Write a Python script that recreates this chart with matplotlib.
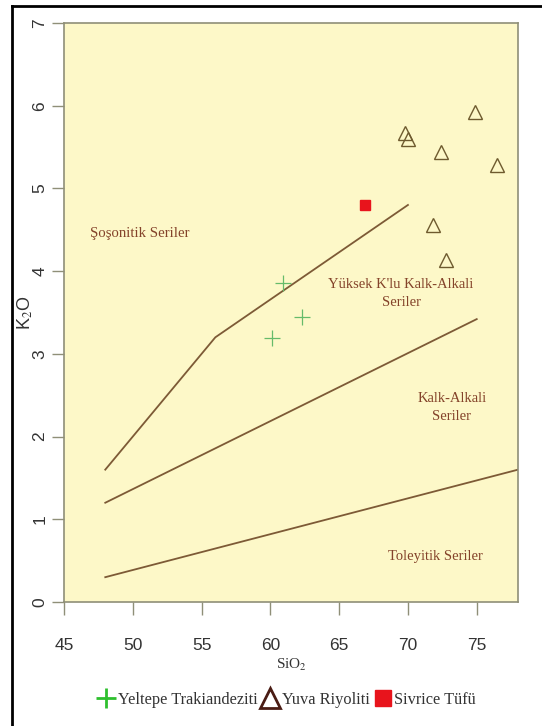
import numpy as np
import matplotlib.pyplot as plt
from matplotlib.lines import Line2D

plt.rcParams['font.family'] = ['Liberation Serif', 'DejaVu Serif']
plt.rcParams['mathtext.fontset'] = 'stix'

# series boundaries (SiO2, K2O)
shoshonitic_x = [48, 56, 70]
shoshonitic_y = [1.6, 3.2, 4.8]
highk_x = [48, 75]
highk_y = [1.2, 3.42]
tholeiitic_x = [48, 78]
tholeiitic_y = [0.3, 1.6]

# samples
yeltepe_sio2 = [60.9, 62.3, 60.1]
yeltepe_k2o = [3.86, 3.45, 3.19]
yuva_sio2 = [69.75, 70.0, 74.9, 72.4, 76.5, 71.8, 72.8]
yuva_k2o = [5.67, 5.60, 5.93, 5.44, 5.28, 4.56, 4.14]
sivrice_sio2 = [66.9]
sivrice_k2o = [4.80]

x_ticks = [45, 50, 55, 60, 65, 70, 75]
y_ticks = [0, 1, 2, 3, 4, 5, 6, 7]

line_col = '#7d5a36'
text_col = '#84432a'
frame_col = '#8f8f78'
sans = ['Liberation Sans', 'DejaVu Sans']

fig = plt.figure(figsize=(5.42, 7.26), dpi=100)
ax = fig.add_axes([64 / 542, 1 - 602 / 726, 454 / 542, 579 / 726])
ax.set_facecolor('#fdf8c8')

ax.plot(shoshonitic_x, shoshonitic_y, color=line_col, lw=1.3)
ax.plot(highk_x, highk_y, color=line_col, lw=1.3)
ax.plot(tholeiitic_x, tholeiitic_y, color=line_col, lw=1.3)

ax.plot(yeltepe_sio2, yeltepe_k2o, ls='none', marker='+', ms=11, mew=0.9, color='#66bb6a')
ax.plot(yuva_sio2, yuva_k2o, ls='none', marker='^', ms=10, mew=1.0,
        mfc='none', mec='#6e5a2e')
ax.plot(sivrice_sio2, sivrice_k2o, ls='none', marker='s', ms=7, color='#e8141c')

ax.text(46.9, 4.45, 'Şoşonitik Seriler', color=text_col, fontsize=10.6, va='center')
ax.text(69.5, 3.73, "Yüksek K'lu Kalk-Alkali\nSeriler", color=text_col, fontsize=10.5,
        ha='center', va='center', linespacing=1.45)
ax.text(73.2, 2.35, 'Kalk-Alkali\nSeriler', color=text_col, fontsize=10.5,
        ha='center', va='center', linespacing=1.5)
ax.text(72.0, 0.55, 'Toleyitik Seriler', color=text_col, fontsize=10.5,
        ha='center', va='center')

ax.set_xlim(45, 78)
ax.set_ylim(0, 7)
ax.set_xticks(x_ticks)
ax.set_yticks(y_ticks)
for s in ax.spines.values():
    s.set_color(frame_col)
    s.set_linewidth(1.2)
ax.tick_params(axis='both', color=frame_col, length=9, width=1.0,
               labelsize=12.5, labelcolor='#333333')
ax.tick_params(axis='x', pad=17)
ax.tick_params(axis='y', pad=3)
for lab in ax.get_xticklabels() + ax.get_yticklabels():
    lab.set_family(sans)
for lab in ax.get_yticklabels():
    lab.set_rotation(90)
    lab.set_va('center')

ax.set_xlabel('SiO$_2$', fontsize=11, color='#333333', labelpad=3)
ax.set_ylabel('K$_2$O', fontsize=13, color='#333333', labelpad=-2, family=sans)

handles = [
    Line2D([], [], ls='none', marker='+', ms=15, mew=2.0, color='#2ec02e'),
    Line2D([], [], ls='none', marker='^', ms=15, mew=2.0, mfc='none', mec='#4a1c14'),
    Line2D([], [], ls='none', marker='s', ms=12, color='#e8141c'),
]
fig.legend(handles, ['Yeltepe Trakiandeziti', 'Yuva Riyoliti', 'Sivrice Tüfü'],
           loc='center', bbox_to_anchor=(287 / 542, 1 - 700 / 726), ncol=3,
           frameon=False, fontsize=11.8, handlelength=1.0, handletextpad=0.2,
           columnspacing=0.3, labelcolor='#333333')

# page border on the left and top
fig.add_artist(Line2D([12 / 542, 12 / 542], [0, 1 - 6 / 726], color='black', lw=2,
                      transform=fig.transFigure))
fig.add_artist(Line2D([12 / 542, 1], [1 - 6 / 726, 1 - 6 / 726], color='black', lw=2,
                      transform=fig.transFigure))

fig.savefig('out.png', dpi=100)
